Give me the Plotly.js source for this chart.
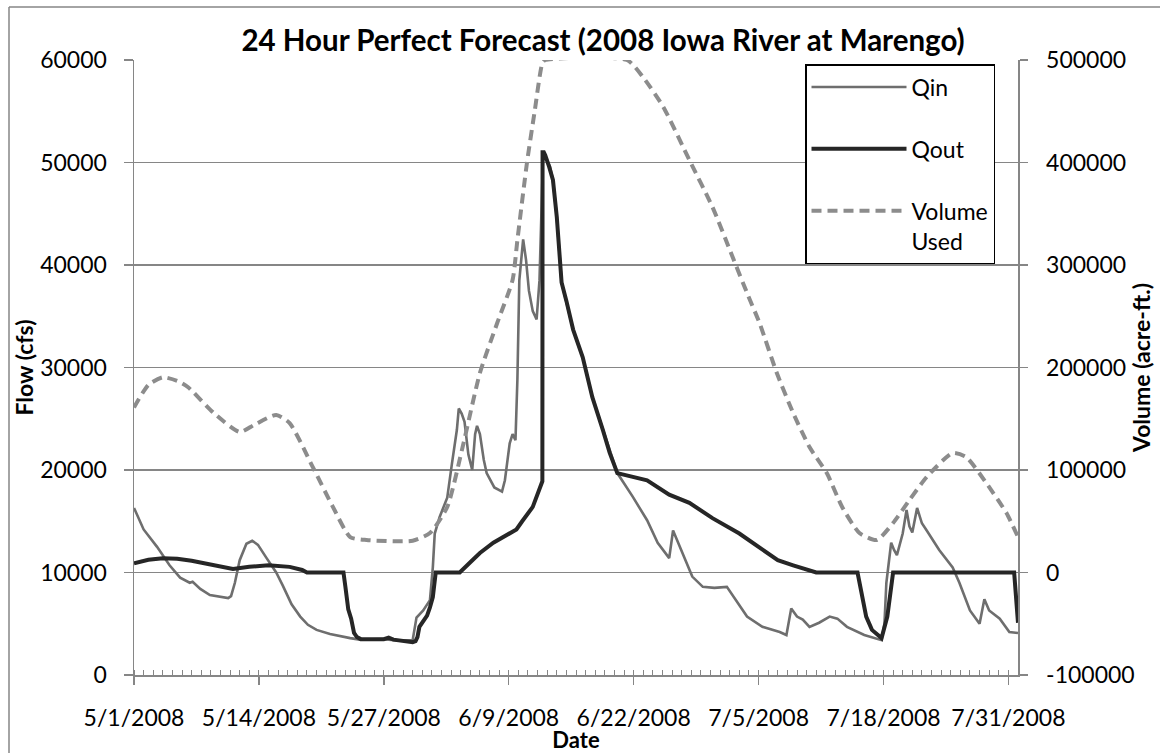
<!DOCTYPE html>
<html>
<head>
<meta charset="utf-8">
<script src="https://cdn.plot.ly/plotly-3.0.1.min.js"></script>
<style>
  html, body { margin: 0; padding: 0; background: #fff; }
  #chart { width: 1160px; height: 753px; }
</style>
</head>
<body>
<div id="chart"></div>
<script>
// ---- Data (day offsets from 5/1/2008) ----
const startDate = Date.UTC(2008, 4, 1);

const dayQin = [0.0, 1.0, 2.4, 3.7, 4.8, 5.8, 6.1, 6.9, 7.9, 9.8, 10.1, 10.5, 11.0, 11.7, 12.3, 12.9, 13.8, 14.8, 15.5, 16.4, 17.3, 18.1, 19.0, 20.4, 22.5, 23.5, 25.9, 27.7, 29.0, 29.4, 30.1, 30.8, 31.1, 31.3, 31.8, 32.6, 33.1, 33.6, 33.8, 34.1, 34.4, 34.8, 35.2, 35.5, 35.7, 36.0, 36.4, 36.7, 37.5, 38.3, 38.6, 39.1, 39.4, 39.7, 39.9, 40.1, 40.5, 40.8, 41.1, 41.5, 41.9, 42.2, 42.55, 42.7, 43.3, 43.6, 44.0, 44.5, 45.7, 46.7, 47.7, 48.8, 50.3, 51.9, 53.4, 54.5, 55.7, 56.1, 56.8, 58.1, 59.2, 60.4, 61.7, 62.5, 63.8, 65.4, 67.2, 67.9, 68.4, 69.0, 69.6, 70.3, 71.3, 72.4, 73.2, 74.2, 76.0, 77.8, 78.1, 78.3, 78.8, 79.1, 79.4, 80.0, 80.4, 80.7, 81.0, 81.5, 82.0, 82.5, 83.8, 85.2, 85.9, 87.0, 88.0, 88.5, 89.0, 90.1, 91.1, 92.0];
const qin = [16300, 14200, 12500, 10700, 9500, 9000, 9100, 8400, 7800, 7500, 7700, 9000, 11200, 12800, 13100, 12700, 11400, 10000, 8700, 6900, 5700, 4900, 4400, 4000, 3600, 3450, 3500, 3350, 3400, 5600, 6300, 7300, 10500, 13800, 15400, 17300, 20700, 23900, 26000, 25500, 24700, 21500, 20000, 23500, 24300, 23500, 21000, 19700, 18300, 17900, 19000, 22600, 23500, 22900, 28800, 38500, 42500, 40500, 37500, 35500, 34700, 38500, 50000, 50800, 49600, 48300, 44700, 38300, 33700, 31000, 27100, 23900, 19700, 17400, 15100, 12900, 11400, 14100, 12500, 9600, 8600, 8500, 8600, 7500, 5700, 4700, 4200, 3900, 6500, 5700, 5400, 4700, 5100, 5700, 5500, 4700, 3900, 3400, 5000, 9000, 12900, 12200, 11700, 13800, 16100, 14500, 13900, 16300, 14800, 14100, 12200, 10500, 9000, 6300, 5000, 7400, 6300, 5500, 4200, 4100];

const dayQout = [0.0, 1.5, 3.0, 4.5, 6.0, 8.0, 10.3, 12.0, 14.0, 16.2, 17.5, 18.0, 21.8, 22.0, 22.3, 22.6, 22.9, 23.2, 23.6, 26.0, 26.5, 27.0, 29.0, 29.3, 29.5, 29.7, 30.5, 30.8, 31.1, 31.4, 33.9, 35.0, 36.0, 37.4, 39.8, 40.4, 41.5, 42.5, 42.52, 42.65, 42.8, 43.2, 43.6, 44.0, 44.5, 45.0, 45.7, 46.7, 47.7, 48.8, 49.5, 50.3, 51.9, 53.4, 55.7, 57.8, 60.2, 63.0, 65.3, 67.0, 68.6, 71.0, 75.3, 75.7, 76.2, 76.8, 77.8, 78.4, 78.8, 79.0, 91.6, 91.8, 92.0];
const qout = [10900, 11250, 11400, 11350, 11150, 10800, 10350, 10550, 10700, 10550, 10250, 10000, 10000, 8600, 6400, 5500, 4100, 3700, 3500, 3500, 3650, 3450, 3200, 3300, 3700, 4700, 5800, 6600, 7600, 10000, 10000, 11000, 11900, 12900, 14200, 15000, 16400, 18900, 51000, 51000, 50700, 49600, 48300, 44700, 38300, 36500, 33700, 31000, 27100, 23900, 21700, 19700, 19300, 19000, 17600, 16800, 15300, 13800, 12300, 11200, 10700, 10000, 10000, 8000, 5700, 4400, 3600, 5700, 9000, 10000, 10000, 8000, 5100];

const dayVol = [0.0, 1.5, 3.0, 4.5, 5.6, 8.3, 11.0, 12.5, 14.8, 16.2, 18.6, 20.7, 22.5, 24.2, 29.0, 30.8, 32.6, 34.2, 36.0, 37.8, 39.4, 39.9, 40.9, 41.7, 42.5, 42.8, 51.3, 53.0, 55.1, 57.8, 60.2, 62.3, 63.8, 65.1, 66.9, 68.6, 70.3, 72.1, 73.7, 75.5, 77.3, 79.0, 80.7, 82.5, 85.2, 86.6, 88.7, 90.8, 92.0];
const vol = [161000, 183000, 190500, 187000, 181000, 155600, 137000, 144000, 153700, 145800, 103000, 64000, 34600, 31700, 31000, 38500, 63900, 122400, 194600, 243400, 285400, 324300, 400000, 450000, 497000, 500000, 500000, 483000, 454000, 402400, 356600, 307800, 272700, 243400, 194600, 155600, 122400, 97000, 63900, 38500, 31700, 48300, 70700, 93200, 116600, 112700, 87300, 58000, 34600];

const flowTicks = [0, 10000, 20000, 30000, 40000, 50000, 60000];
const volTicks = [-100000, 0, 100000, 200000, 300000, 400000, 500000];
const dateTicks = ['2008-05-01', '2008-05-14', '2008-05-27', '2008-06-09', '2008-06-22', '2008-07-05', '2008-07-18', '2008-07-31'];
const dateTickText = ['5/1/2008', '5/14/2008', '5/27/2008', '6/9/2008', '6/22/2008', '7/5/2008', '7/18/2008', '7/31/2008'];

// ---- helpers ----
const toDate = d => new Date(startDate + d * 864e5).toISOString().slice(0, 19).replace('T', ' ');

const FONT = 'Lato, "Open Sans", sans-serif';
const AX = '#868686';

const traces = [
  {
    x: dayQin.map(toDate), y: qin, name: 'Qin', type: 'scatter', mode: 'lines',
    line: { color: '#6e6e6e', width: 2.6 }, legendgroup: 'a', yaxis: 'y'
  },
  {
    x: dayQout.map(toDate), y: qout, name: 'Qout', type: 'scatter', mode: 'lines',
    line: { color: '#262626', width: 4 }, legendgroup: 'b', yaxis: 'y'
  },
  {
    x: dayVol.map(toDate), y: vol, name: 'Volume<br>Used', type: 'scatter', mode: 'lines',
    line: { color: '#8c8c8c', width: 4, dash: '10px,6px', shape: 'spline', smoothing: 0.6 },
    legendgroup: 'c', yaxis: 'y2'
  }
];

const W = 1160, H = 753, L = 134, R = 142, T = 60, B = 78;
const pw = W - L - R, ph = H - T - B;
const px = v => (v - L) / pw;
const py = v => (H - B - v) / ph;

const layout = {
  width: W, height: H,
  margin: { l: L, r: R, t: T, b: B, pad: 0 },
  paper_bgcolor: '#fff', plot_bgcolor: '#fff',
  font: { family: FONT, size: 23, color: '#000' },
  title: {
    text: '<b>24 Hour Perfect Forecast (2008 Iowa River at Marengo)</b>',
    x: 603 / W, xanchor: 'center', xref: 'container',
    y: 1 - 41 / H, yanchor: 'middle', yref: 'container',
    font: { family: FONT, size: 29.5, color: '#000' }
  },
  xaxis: {
    type: 'date',
    range: ['2008-05-01', '2008-08-01'],
    tickmode: 'array', tickvals: dateTicks, ticktext: dateTickText,
    ticks: 'outside', ticklen: 8, tickcolor: AX, tickwidth: 1.5,
    minor: { dtick: 864e5, tick0: '2008-05-01', ticks: 'inside', ticklen: 5, tickcolor: AX, tickwidth: 1, showgrid: false },
    showline: true, linecolor: AX, linewidth: 1.5,
    showgrid: false, zeroline: false,
    ticklabelstandoff: 14,
    tickfont: { family: FONT, size: 23, color: '#000' },
    title: { text: 'Date', standoff: 4, font: { family: FONT, size: 22, color: '#000', weight: 700 } }
  },
  yaxis: {
    range: [0, 60000],
    tickmode: 'array', tickvals: flowTicks, ticktext: flowTicks.map(String),
    ticks: 'outside', ticklen: 9, tickcolor: AX, tickwidth: 1.5,
    showline: true, linecolor: AX, linewidth: 1.5,
    showgrid: true, gridcolor: AX, gridwidth: 1.5, zeroline: false,
    ticklabelstandoff: 12,
    tickfont: { family: FONT, size: 23, color: '#000' },
    title: { text: 'Flow (cfs)', standoff: 0, font: { family: FONT, size: 23, color: '#000', weight: 700 } }
  },
  yaxis2: {
    range: [-100000, 500000], overlaying: 'y', side: 'right',
    tickmode: 'array', tickvals: volTicks, ticktext: volTicks.map(String),
    ticks: 'outside', ticklen: 8, tickcolor: AX, tickwidth: 1.5,
    showline: true, linecolor: AX, linewidth: 1.5,
    showgrid: false, zeroline: false,
    ticklabelstandoff: 14,
    tickfont: { family: FONT, size: 23, color: '#000' },
    title: { text: 'Volume (acre-ft.)', standoff: 0, font: { family: FONT, size: 23, color: '#000', weight: 700 } }
  },
  showlegend: true,
  legend: {
    x: px(805), y: py(64), xanchor: 'left', yanchor: 'top',
    bgcolor: '#fff', bordercolor: '#000', borderwidth: 1.5,
    font: { family: FONT, size: 23, color: '#000' },
    traceorder: 'grouped', tracegroupgap: 29, valign: 'top',
    itemwidth: 95
  },
  shapes: [
    { type: 'line', xref: 'paper', yref: 'paper', x0: px(9), x1: px(9), y0: py(7), y1: py(H + 5), line: { color: AX, width: 1.5 } },
    { type: 'line', xref: 'paper', yref: 'paper', x0: px(9), x1: px(W + 5), y0: py(7), y1: py(7), line: { color: AX, width: 1.5 } }
  ]
};

Plotly.newPlot('chart', traces, layout, { displayModeBar: false, staticPlot: true });
</script>
</body>
</html>
